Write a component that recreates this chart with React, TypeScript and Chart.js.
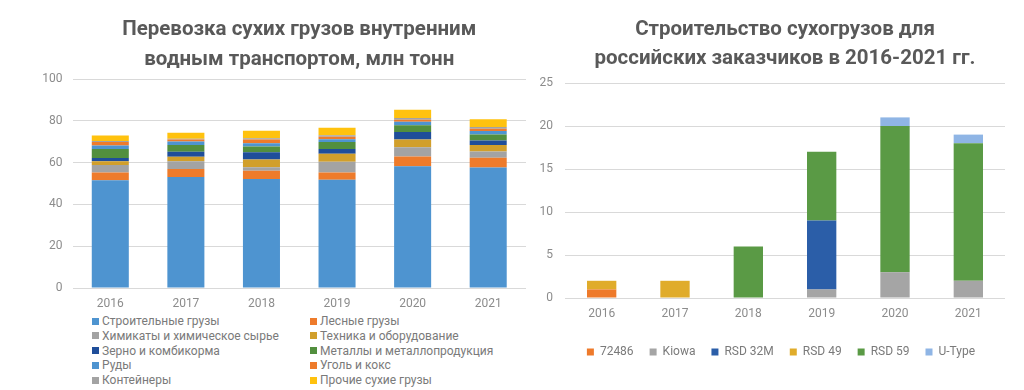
import React, { useEffect, useRef } from "react";
import { Chart, registerables } from "chart.js";
Chart.register(...registerables);

// ---- Left chart data ----
const leftTitle = ["Перевозка сухих грузов внутренним", "водным транспортом, млн тонн"];
const leftYears = ["2016", "2017", "2018", "2019", "2020", "2021"];
const stroitelnye = [51.5, 53.1, 52.1, 51.8, 58.3, 57.7];
const lesnye = [3.8, 3.8, 4.0, 3.5, 4.6, 4.6];
const himikaty = [3.5, 3.7, 1.7, 5.1, 4.4, 3.0];
const tehnika = [1.8, 2.2, 3.7, 3.8, 3.8, 3.1];
const zerno = [1.6, 2.4, 3.5, 2.3, 3.5, 2.2];
const metally = [4.3, 3.2, 2.7, 3.3, 3.3, 2.9];
const rudy = [1.7, 1.7, 1.6, 1.4, 1.6, 1.6];
const ugol = [1.6, 1.0, 1.8, 1.2, 1.0, 1.1];
const konteinery = [0.5, 0.3, 0.6, 0.7, 0.8, 0.8];
const prochie = [2.7, 2.9, 3.5, 3.6, 4.0, 3.8];
const leftNames = [
  "Строительные грузы",
  "Лесные грузы",
  "Химикаты и химическое сырье",
  "Техника и оборудование",
  "Зерно и комбикорма",
  "Металлы и металлопродукция",
  "Руды",
  "Уголь и кокс",
  "Контейнеры",
  "Прочие сухие грузы",
];
const leftColors = ["#4e94d0", "#ee7b2b", "#a3a3a3", "#d19f2b", "#1f4e9a", "#528f3e", "#4e94d0", "#ee7b2b", "#a3a3a3", "#ffc20e"];
const leftSeries = [stroitelnye, lesnye, himikaty, tehnika, zerno, metally, rudy, ugol, konteinery, prochie];

// ---- Right chart data ----
const rightTitle = ["Строительство сухогрузов для", "российских заказчиков в 2016-2021 гг."];
const rightYears = ["2016", "2017", "2018", "2019", "2020", "2021"];
const s72486 = [1, 0, 0, 0, 0, 0];
const kiowa = [0, 0, 0, 1, 3, 2];
const rsd32m = [0, 0, 0, 8, 0, 0];
const rsd49 = [1, 2, 0, 0, 0, 0];
const rsd59 = [0, 0, 6, 8, 17, 16];
const utype = [0, 0, 0, 0, 1, 1];
const rightNames = ["72486", "Kiowa", "RSD 32M", "RSD 49", "RSD 59", "U-Type"];
const rightColors = ["#ee7a2b", "#a5a5a5", "#2b5ea8", "#e0ac2b", "#5a9a45", "#8fb5e5"];
const rightSeries = [s72486, kiowa, rsd32m, rsd49, rsd59, utype];

const FONT = "Roboto";
const TICK = "#8c8c8c";
const TITLE = "#595959";
const GRID = "#d9d9d9";

function LeftChart() {
  const ref = useRef<HTMLCanvasElement>(null);
  useEffect(() => {
    const chart = new Chart(ref.current!, {
      type: "bar",
      data: {
        labels: leftYears,
        datasets: leftSeries.map((d, i) => ({
          label: leftNames[i],
          data: d,
          backgroundColor: leftColors[i],
          borderWidth: 0,
          categoryPercentage: 1,
          barPercentage: 0.49,
        })),
      },
      options: {
        animation: false,
        responsive: false,
        layout: { padding: { left: 0, right: 14, top: 0, bottom: 0 } },
        plugins: {
          legend: { display: false },
          tooltip: { enabled: false },
          title: {
            display: true,
            text: leftTitle,
            fullSize: false,
            color: TITLE,
            font: { family: FONT, size: 20.5, weight: "bold", lineHeight: "30px" },
            padding: { top: 15, bottom: 4 },
          },
        },
        scales: {
          x: {
            stacked: true,
            grid: { display: false, drawTicks: false },
            border: { display: false },
            ticks: { color: TICK, font: { family: FONT, size: 12 }, padding: 9 },
            afterFit: (s: any) => {
              s.height = 24;
            },
          },
          y: {
            stacked: true,
            min: 0,
            max: 100,
            ticks: { stepSize: 20, color: TICK, font: { family: FONT, size: 12 }, padding: 10 },
            grid: { color: GRID, drawTicks: false },
            border: { display: false },
            afterFit: (s: any) => {
              s.width = 72.5;
            },
          },
        },
      },
    });
    return () => chart.destroy();
  }, []);
  return <canvas ref={ref} width={540} height={312} style={{ position: "absolute", left: 0, top: 0 }} />;
}

function RightChart() {
  const ref = useRef<HTMLCanvasElement>(null);
  useEffect(() => {
    const chart = new Chart(ref.current!, {
      type: "bar",
      data: {
        labels: rightYears,
        datasets: rightSeries.map((d, i) => ({
          label: rightNames[i],
          data: d,
          backgroundColor: rightColors[i],
          borderWidth: 0,
          categoryPercentage: 1,
          barPercentage: 0.4,
        })),
      },
      options: {
        animation: false,
        responsive: false,
        layout: { padding: { left: 0, right: 0, top: 0, bottom: 22 } },
        plugins: {
          tooltip: { enabled: false },
          legend: {
            position: "bottom",
            labels: {
              boxWidth: 7,
              boxHeight: 7,
              padding: 16,
              color: "#7a7a7a",
              font: { family: FONT, size: 12 },
            },
          },
          title: {
            display: true,
            text: rightTitle,
            fullSize: false,
            color: TITLE,
            font: { family: FONT, size: 20.5, weight: "bold", lineHeight: "29px" },
            padding: { top: 15, bottom: 10 },
          },
        },
        scales: {
          x: {
            stacked: true,
            grid: { display: false, drawTicks: false },
            border: { display: false },
            ticks: { color: TICK, font: { family: FONT, size: 12 }, padding: 9 },
            afterFit: (s: any) => {
              s.height = 32;
            },
          },
          y: {
            stacked: true,
            min: 0,
            max: 25,
            ticks: { stepSize: 5, color: TICK, font: { family: FONT, size: 12 }, padding: 12 },
            grid: { color: GRID, drawTicks: false },
            border: { display: false },
            afterFit: (s: any) => {
              s.width = 37;
            },
          },
          yRight: {
            position: "right",
            min: 0,
            max: 25,
            grid: { display: false, drawTicks: false },
            border: { display: false },
            ticks: { display: false },
            afterFit: (s: any) => {
              s.width = 29;
            },
          },
        },
      },
    });
    return () => chart.destroy();
  }, []);
  return <canvas ref={ref} width={506} height={390} style={{ position: "absolute", left: 528, top: 0 }} />;
}

function LeftLegend() {
  return (
    <>
      {leftNames.map((name, i) => {
        const col = i % 2;
        const row = Math.floor(i / 2);
        return (
          <div
            key={name}
            style={{
              position: "absolute",
              left: col === 0 ? 92 : 310,
              top: 321 + row * 14.75 - 8,
              height: 16,
              display: "flex",
              alignItems: "center",
              fontFamily: FONT,
              fontSize: 12,
              color: "#7a7a7a",
              whiteSpace: "nowrap",
            }}
          >
            <span style={{ display: "inline-block", width: 7, height: 7, background: leftColors[i], marginRight: 3 }} />
            {name}
          </div>
        );
      })}
    </>
  );
}

export default function App() {
  return (
    <div style={{ position: "absolute", left: 0, top: 0, width: 1024, height: 390, background: "#fff", overflow: "hidden" }}>
      <LeftChart />
      <LeftLegend />
      <RightChart />
    </div>
  );
}
